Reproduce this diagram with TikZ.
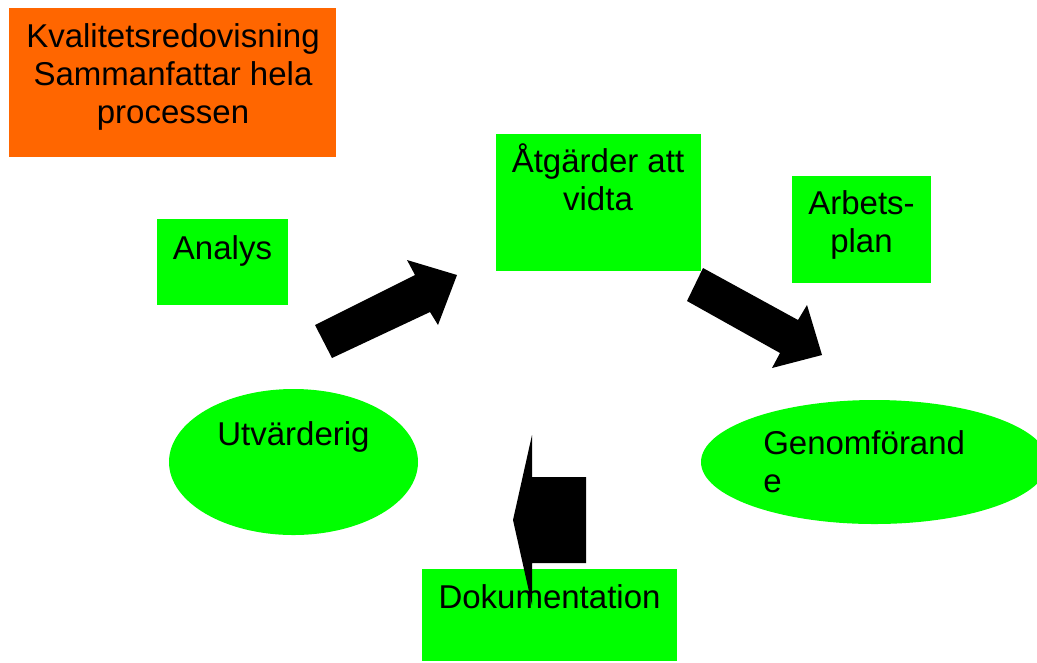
\documentclass[tikz,border=0pt]{standalone}
\usepackage{fontspec}
\setmainfont{Liberation Sans}
\usetikzlibrary{shapes.geometric}
\definecolor{kvorange}{HTML}{FF6600}
\definecolor{kvgreen}{HTML}{00FF00}
\begin{document}
\begin{tikzpicture}[x=0.75pt,y=-0.75pt,
  box/.style={fill=kvgreen,draw=none,inner sep=0pt},
  oval/.style={box,ellipse},
  txt/.style={inner sep=0pt,align=center,anchor=base,font=\fontsize{24.75pt}{28.5pt}\selectfont},
  blockarrow/.style={fill=black,draw=none}]
\clip (0,0) rectangle (1037,662);
\fill[white] (0,0) rectangle (1037,662);
% boxes
\node[box,fill=kvorange,minimum width=245.25pt,minimum height=111.75pt] (kvbox) at (172.5,82.5) {};
\node[box,minimum width=98.25pt,minimum height=64.5pt] (analysbox) at (222.5,262) {};
\node[box,minimum width=153.75pt,minimum height=102.75pt] (atgbox) at (598.5,202.5) {};
\node[box,minimum width=104.25pt,minimum height=80.25pt] (planbox) at (861.5,229.5) {};
\node[oval,minimum width=186.75pt,minimum height=109.5pt] (utvbox) at (293.5,462) {};
\node[oval,minimum width=260.25pt,minimum height=93pt] (genbox) at (874.5,462) {};
\node[box,minimum width=191.25pt,minimum height=69pt] (dokbox) at (549.5,615) {};
% texts (base = last line)
\node[txt] (kv) at (173,123) {Kvalitetsredovisning\\Sammanfattar hela\\processen};
\node[txt] (analys) at (222.5,259) {Analys};
\node[txt] (atg) at (598,210) {Åtgärder att\\vidta};
\node[txt] (plan) at (861.5,252) {Arbets-\\plan};
\node[txt] (utv) at (293.5,445) {Utvärderig};
\node[txt,align=left,anchor=base west] (gen) at (763,492) {Genomförand\\e};
\node[txt] (dok) at (549.5,608) {Dokumentation};
% arrows
\draw[blockarrow] (315,325) -- (415,275) -- (407,260) -- (457,275) -- (438,325) -- (430,312) -- (332,358) -- cycle;
\draw[blockarrow] (703,268) -- (798,320) -- (807,305) -- (822,355) -- (772,368) -- (780,353) -- (687,301) -- cycle;
\draw[blockarrow] (586,477) -- (532,477) -- (532,435) -- (513,520) -- (532,605) -- (532,563) -- (586,563) -- cycle;
\end{tikzpicture}
\end{document}
